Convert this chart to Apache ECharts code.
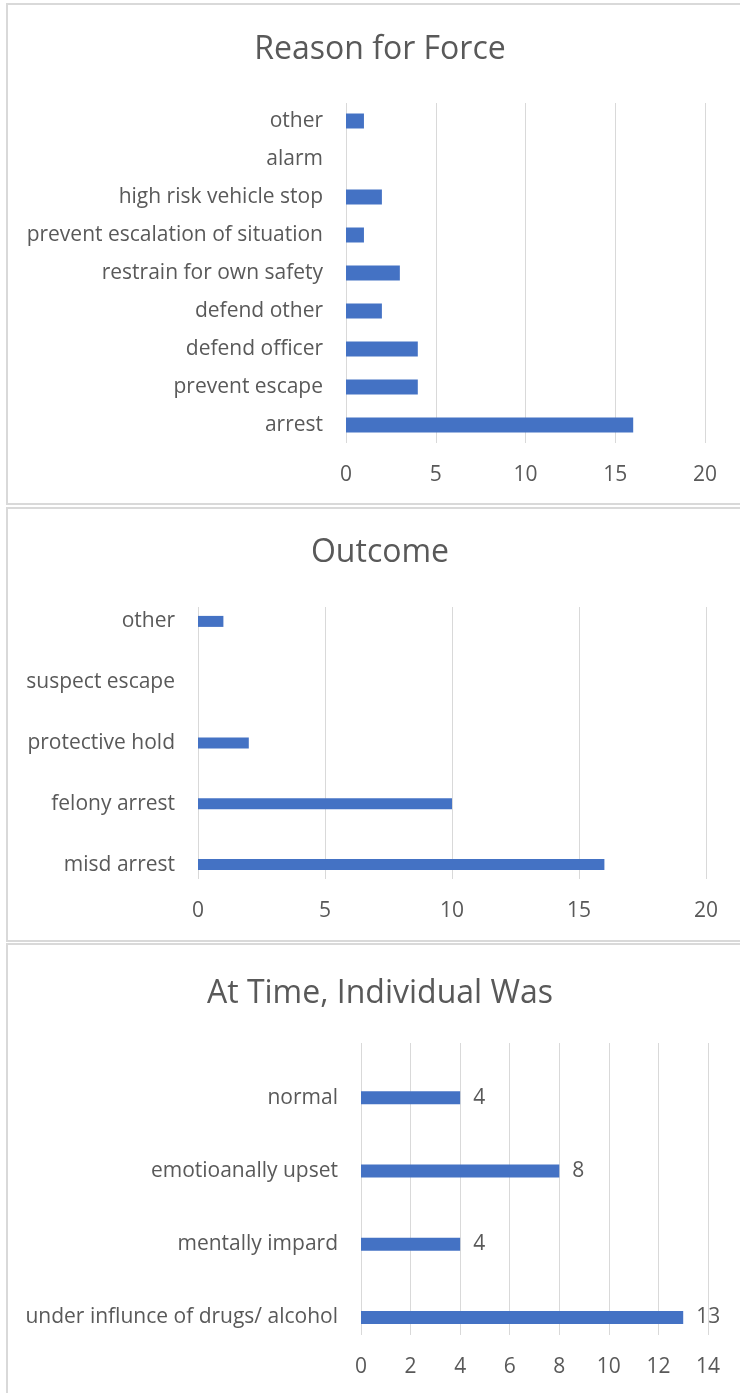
<!DOCTYPE html>
<html>
<head>
<meta charset="utf-8">
<script src="https://cdn.jsdelivr.net/npm/echarts@6/dist/echarts.min.js"></script>
<style>
  html, body { margin: 0; padding: 0; background: #ffffff; }
  #chart { width: 740px; height: 1393px; }
</style>
</head>
<body>
<div id="chart"></div>
<script>
// Reason for Force (listed top to bottom)
const reasonCategories = [
  'other', 'alarm', 'high risk vehicle stop', 'prevent escalation of situation',
  'restrain for own safety', 'defend other', 'defend officer', 'prevent escape', 'arrest'
];
const reasonValues = [1, 0, 2, 1, 3, 2, 4, 4, 16];

// Outcome (listed top to bottom)
const outcomeCategories = ['other', 'suspect escape', 'protective hold', 'felony arrest', 'misd arrest'];
const outcomeValues = [1, 0, 2, 10, 16];

// At Time, Individual Was (listed top to bottom)
const stateCategories = ['normal', 'emotioanally upset', 'mentally impard', 'under influnce of drugs/ alcohol'];
const stateValues = [4, 8, 4, 13];

const titles = ['Reason for Force', 'Outcome', 'At Time, Individual Was'];

const FONT = '"Open Sans", "Noto Sans", sans-serif';
const TEXT = '#595959';
const GRIDLINE = '#D9D9D9';
const BAR = '#4472C4';
const LABEL_SIZE = 21;
const TITLE_SIZE = 32;

// Panel layout: frame, title centre, gridline band, category band, axis
const panels = [
  { frame: [7, 4, 800, 500], titleY: 48, lines: [103, 443], bands: [102, 444], left: 346, right: 35,
    max: 20, interval: 5, cats: reasonCategories, vals: reasonValues, barW: 15, labels: false },
  { frame: [7, 508, 800, 433], titleY: 551, lines: [607, 879], bands: [591, 895], left: 198, right: 34,
    max: 20, interval: 5, cats: outcomeCategories, vals: outcomeValues, barW: 11, labels: false },
  { frame: [7, 944, 800, 470], titleY: 992, lines: [1043, 1335], bands: [1061, 1354], left: 361, right: 32,
    max: 14, interval: 2, cats: stateCategories, vals: stateValues, barW: 13, labels: true }
];

const grid = [], xAxis = [], yAxis = [], series = [], title = [], graphic = [];

panels.forEach((p, i) => {
  graphic.push({
    type: 'rect', silent: true, z: -1,
    shape: { x: p.frame[0], y: p.frame[1], width: p.frame[2], height: p.frame[3] },
    style: { fill: '#ffffff', stroke: GRIDLINE, lineWidth: 2 }
  });
  title.push({
    text: titles[i], left: 375, textAlign: 'center', top: p.titleY - 19,
    textStyle: { fontFamily: FONT, fontSize: TITLE_SIZE, fontWeight: 'normal', color: TEXT }
  });

  // grid holding the vertical gridlines and tick labels
  const gLines = grid.length;
  grid.push({ left: p.left, right: p.right, top: p.lines[0], height: p.lines[1] - p.lines[0] });
  xAxis.push({
    gridIndex: gLines, type: 'value', min: 0, max: p.max, interval: p.interval,
    axisLine: { show: false }, axisTick: { show: false },
    splitLine: { show: true, lineStyle: { color: GRIDLINE, width: 1 } },
    axisLabel: { margin: 22, fontFamily: FONT, fontSize: LABEL_SIZE, color: TEXT }
  });
  yAxis.push({
    gridIndex: gLines, type: 'category', data: p.cats, show: false
  });

  // grid holding the bars and category labels
  const gBars = grid.length;
  grid.push({ left: p.left, right: p.right, top: p.bands[0], height: p.bands[1] - p.bands[0] });
  xAxis.push({
    gridIndex: gBars, type: 'value', min: 0, max: p.max, interval: p.interval, show: false,
    splitLine: { show: false }
  });
  yAxis.push({
    gridIndex: gBars, type: 'category', data: p.cats, inverse: true,
    axisLine: { show: false }, axisTick: { show: false }, splitLine: { show: false },
    axisLabel: { margin: 23, fontFamily: FONT, fontSize: LABEL_SIZE, color: TEXT }
  });
  series.push({
    type: 'bar', xAxisIndex: gBars, yAxisIndex: gBars, data: p.vals,
    barWidth: p.barW, itemStyle: { color: BAR },
    label: {
      show: p.labels, position: 'right', distance: 13,
      fontFamily: FONT, fontSize: LABEL_SIZE, color: TEXT
    },
    animation: false
  });
});

const chart = echarts.init(document.getElementById('chart'), null, { renderer: 'canvas' });
chart.setOption({
  animation: false,
  backgroundColor: '#ffffff',
  graphic, title, grid, xAxis, yAxis, series
});
</script>
</body>
</html>
